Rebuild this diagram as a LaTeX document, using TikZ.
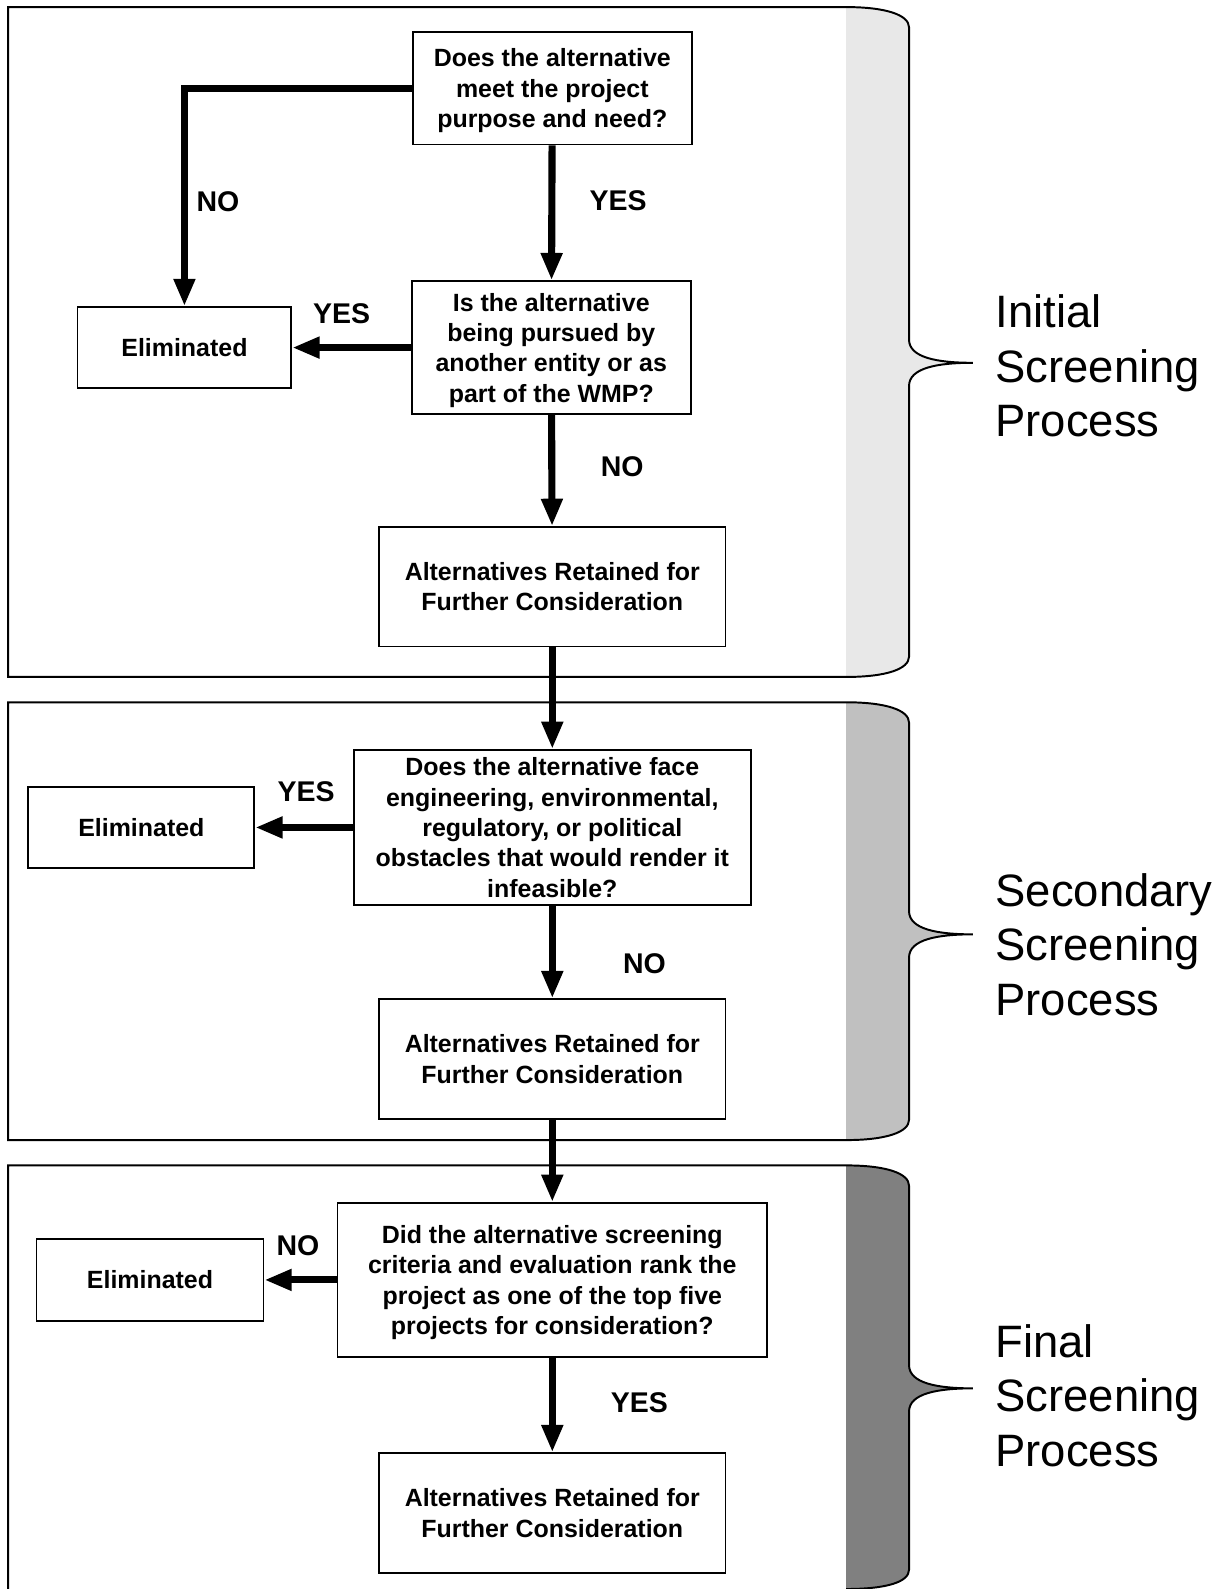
\documentclass[tikz,border=0pt]{standalone}
\usepackage{fontspec}
\setmainfont{Liberation Sans}
\usetikzlibrary{arrows.meta}
\definecolor{shadeinit}{HTML}{E8E8E8}
\definecolor{shadesec}{HTML}{C0C0C0}
\definecolor{shadefin}{HTML}{808080}

\begin{document}
\begin{tikzpicture}[
        box/.style={draw=black,line width=1pt,fill=white,align=center,inner sep=0pt,font=\fontsize{14}{17}\selectfont\bfseries},
        question/.style={box,text depth=0pt},
        flow/.style={line width=4pt,-{Triangle[length=0.54cm,width=0.4cm]}},
        answer/.style={inner sep=0pt,font=\fontsize{16}{19}\selectfont\bfseries},
        stage/.style={anchor=west,align=left,inner sep=0pt,font=\fontsize{25.5}{30.7}\selectfont},
        panel/.style={line width=1.1pt}]
        \useasboundingbox (0,0) rectangle (24.1,-31.36);
        \fill[shadeinit] (16.7,-0.14) .. controls (17.5,-0.14) and (17.94,-0.3) .. (17.94,-0.54) -- (17.94,-6.7) .. controls (17.94,-7.06) and (18.5,-7.16) .. (19.2,-7.16) .. controls (18.5,-7.16) and (17.94,-7.26) .. (17.94,-7.62) -- (17.94,-12.96) .. controls (17.94,-13.2) and (17.5,-13.36) .. (16.7,-13.36) -- cycle;
        \draw[panel] (16.7,-13.36) -- (0.16,-13.36) -- (0.16,-0.14) -- (16.7,-0.14) .. controls (17.5,-0.14) and (17.94,-0.3) .. (17.94,-0.54) -- (17.94,-6.7) .. controls (17.94,-7.06) and (18.5,-7.16) .. (19.2,-7.16) .. controls (18.5,-7.16) and (17.94,-7.26) .. (17.94,-7.62) -- (17.94,-12.96) .. controls (17.94,-13.2) and (17.5,-13.36) .. (16.7,-13.36);
        \fill[shadesec] (16.7,-13.86) .. controls (17.5,-13.86) and (17.94,-14.02) .. (17.94,-14.26) -- (17.94,-17.98) .. controls (17.94,-18.34) and (18.5,-18.44) .. (19.2,-18.44) .. controls (18.5,-18.44) and (17.94,-18.54) .. (17.94,-18.9) -- (17.94,-22.1) .. controls (17.94,-22.34) and (17.5,-22.5) .. (16.7,-22.5) -- cycle;
        \draw[panel] (16.7,-22.5) -- (0.16,-22.5) -- (0.16,-13.86) -- (16.7,-13.86) .. controls (17.5,-13.86) and (17.94,-14.02) .. (17.94,-14.26) -- (17.94,-17.98) .. controls (17.94,-18.34) and (18.5,-18.44) .. (19.2,-18.44) .. controls (18.5,-18.44) and (17.94,-18.54) .. (17.94,-18.9) -- (17.94,-22.1) .. controls (17.94,-22.34) and (17.5,-22.5) .. (16.7,-22.5);
        \fill[shadefin] (16.7,-23.0) .. controls (17.5,-23.0) and (17.94,-23.16) .. (17.94,-23.4) -- (17.94,-26.94) .. controls (17.94,-27.3) and (18.5,-27.4) .. (19.2,-27.4) .. controls (18.5,-27.4) and (17.94,-27.5) .. (17.94,-27.86) -- (17.94,-30.98) .. controls (17.94,-31.22) and (17.5,-31.36) .. (16.7,-31.36) -- (16.7,-31.5) -- cycle;
        \draw[panel] (0.16,-31.5) -- (0.16,-23.0) -- (16.7,-23.0) .. controls (17.5,-23.0) and (17.94,-23.16) .. (17.94,-23.4) -- (17.94,-26.94) .. controls (17.94,-27.3) and (18.5,-27.4) .. (19.2,-27.4) .. controls (18.5,-27.4) and (17.94,-27.5) .. (17.94,-27.86) -- (17.94,-30.98) .. controls (17.94,-31.22) and (17.5,-31.36) .. (16.7,-31.36);
        \node[question,minimum width=5.5cm,minimum height=2.22cm] (purpose) at (10.9,-1.74) {Does the alternative\\meet the project\\purpose and need?};
        \node[box,minimum width=4.22cm,minimum height=1.6cm] (elimfirst) at (3.64,-6.86) {Eliminated};
        \node[question,minimum width=5.5cm,minimum height=2.62cm] (pursued) at (10.88,-6.86) {Is the alternative\\being pursued by\\another entity or as\\part of the WMP?};
        \node[box,minimum width=6.84cm,minimum height=2.36cm] (keepfirst) at (10.9,-11.58) {Alternatives Retained for\\Further Consideration};
        \node[question,minimum width=7.84cm,minimum height=3.06cm] (obstacles) at (10.9,-16.33) {Does the alternative face\\engineering, environmental,\\regulatory, or political\\obstacles that would render it\\infeasible?};
        \node[box,minimum width=4.46cm,minimum height=1.6cm] (elimsecond) at (2.79,-16.33) {Eliminated};
        \node[box,minimum width=6.84cm,minimum height=2.36cm] (keepsecond) at (10.9,-20.9) {Alternatives Retained for\\Further Consideration};
        \node[question,minimum width=8.48cm,minimum height=3.04cm] (ranking) at (10.9,-25.26) {Did the alternative screening\\criteria and evaluation rank the\\project as one of the top five\\projects for consideration?};
        \node[box,minimum width=4.48cm,minimum height=1.62cm] (elimthird) at (2.96,-25.26) {Eliminated};
        \node[box,minimum width=6.84cm,minimum height=2.36cm] (keepthird) at (10.9,-29.86) {Alternatives Retained for\\Further Consideration};
        \draw[flow] (purpose.west) -| (elimfirst.north);
        \draw[flow] (purpose) -- (pursued);
        \draw[flow] (pursued) -- (elimfirst);
        \draw[flow] (pursued) -- (keepfirst);
        \draw[flow] (keepfirst) -- (obstacles);
        \draw[flow] (obstacles) -- (elimsecond);
        \draw[flow] (obstacles) -- (keepsecond);
        \draw[flow] (keepsecond) -- (ranking);
        \draw[flow] (ranking) -- (elimthird);
        \draw[flow] (ranking) -- (keepthird);
        \node[answer] (nofirst) at (4.3,-3.98) {NO};
        \node[answer] (yesfirst) at (12.2,-3.96) {YES};
        \node[answer] (yessecond) at (6.74,-6.2) {YES};
        \node[answer] (nosecond) at (12.28,-9.22) {NO};
        \node[answer] (yesthird) at (6.04,-15.62) {YES};
        \node[answer] (nothird) at (12.72,-19.02) {NO};
        \node[answer] (nofourth) at (5.88,-24.58) {NO};
        \node[answer] (yesfourth) at (12.62,-27.68) {YES};
        \node[stage] (initial) at (19.64,-7.22) {Initial\\Screening\\Process};
        \node[stage] (secondary) at (19.64,-18.64) {Secondary\\Screening\\Process};
        \node[stage] (final) at (19.64,-27.54) {Final\\Screening\\Process};
\end{tikzpicture}
\end{document}
